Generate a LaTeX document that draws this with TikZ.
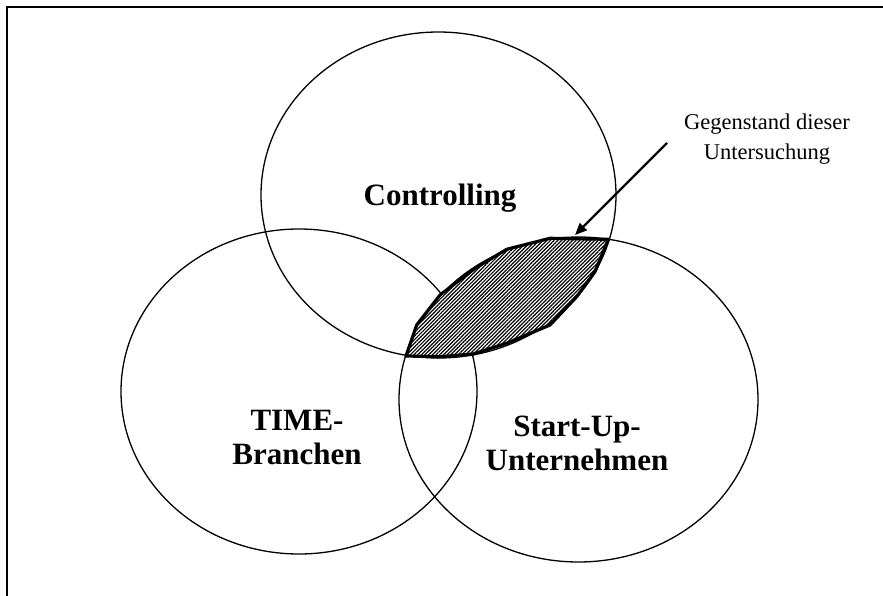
\documentclass[tikz,border=0pt]{standalone}
\usepackage{fontspec}
\setmainfont{Liberation Serif}
\usetikzlibrary{patterns.meta,arrows.meta}
\begin{document}
\begin{tikzpicture}[x=1pt,y=-1pt,
  ring/.style={draw=black,line width=1.3pt},
  lbl/.style={font=\bfseries\fontsize{31}{34}\selectfont,align=center,inner sep=0pt},
  note/.style={font=\fontsize{22.5}{30}\selectfont,align=center,inner sep=0pt},
  lens/.style={draw=black,line width=3.2pt,line join=round,
    preaction={fill=white},
    pattern={Lines[angle=45,distance=2.6pt,line width=1.2pt]}},
  pointer/.style={draw=black,line width=2.3pt,-{Triangle[length=12pt,width=10pt]}}]
\useasboundingbox (0,0) rectangle (883,596);
% frame (right and bottom edges lie outside the picture)
\draw[line width=2pt] (6.5,7) rectangle (920,640);
% circles
\draw[ring] (438.5,195) ellipse [x radius=177.5, y radius=163];
\draw[ring] (299,391.5) ellipse [x radius=178, y radius=162.5];
\draw[ring] (578.5,399.5) ellipse [x radius=179.5, y radius=162.5];
% highlighted intersection
\draw[lens] (406,356) -- (416.7,325) -- (440,295) -- (475,268.3) -- (506.7,249.3)
  -- (550,238.3) -- (608.3,239.3) -- (595,271.7) -- (576.7,296.7) -- (550,325)
  -- (506.7,343.3) -- (473.3,354) -- (440,356.7) -- cycle;
\coordinate (target) at (575,235);
% labels
\node[lbl,anchor=base] (ctrl) at (440,206) {Controlling};
\node[lbl] (time) at (297,437) {TIME-\\Branchen};
\node[lbl] (start) at (577,443) {Start-Up-\\Unternehmen};
\node[note] (note) at (767,139) {Gegenstand dieser\\Untersuchung};
\coordinate (src) at (667,143);
\draw[pointer] (src) -- (target);
\end{tikzpicture}
\end{document}
